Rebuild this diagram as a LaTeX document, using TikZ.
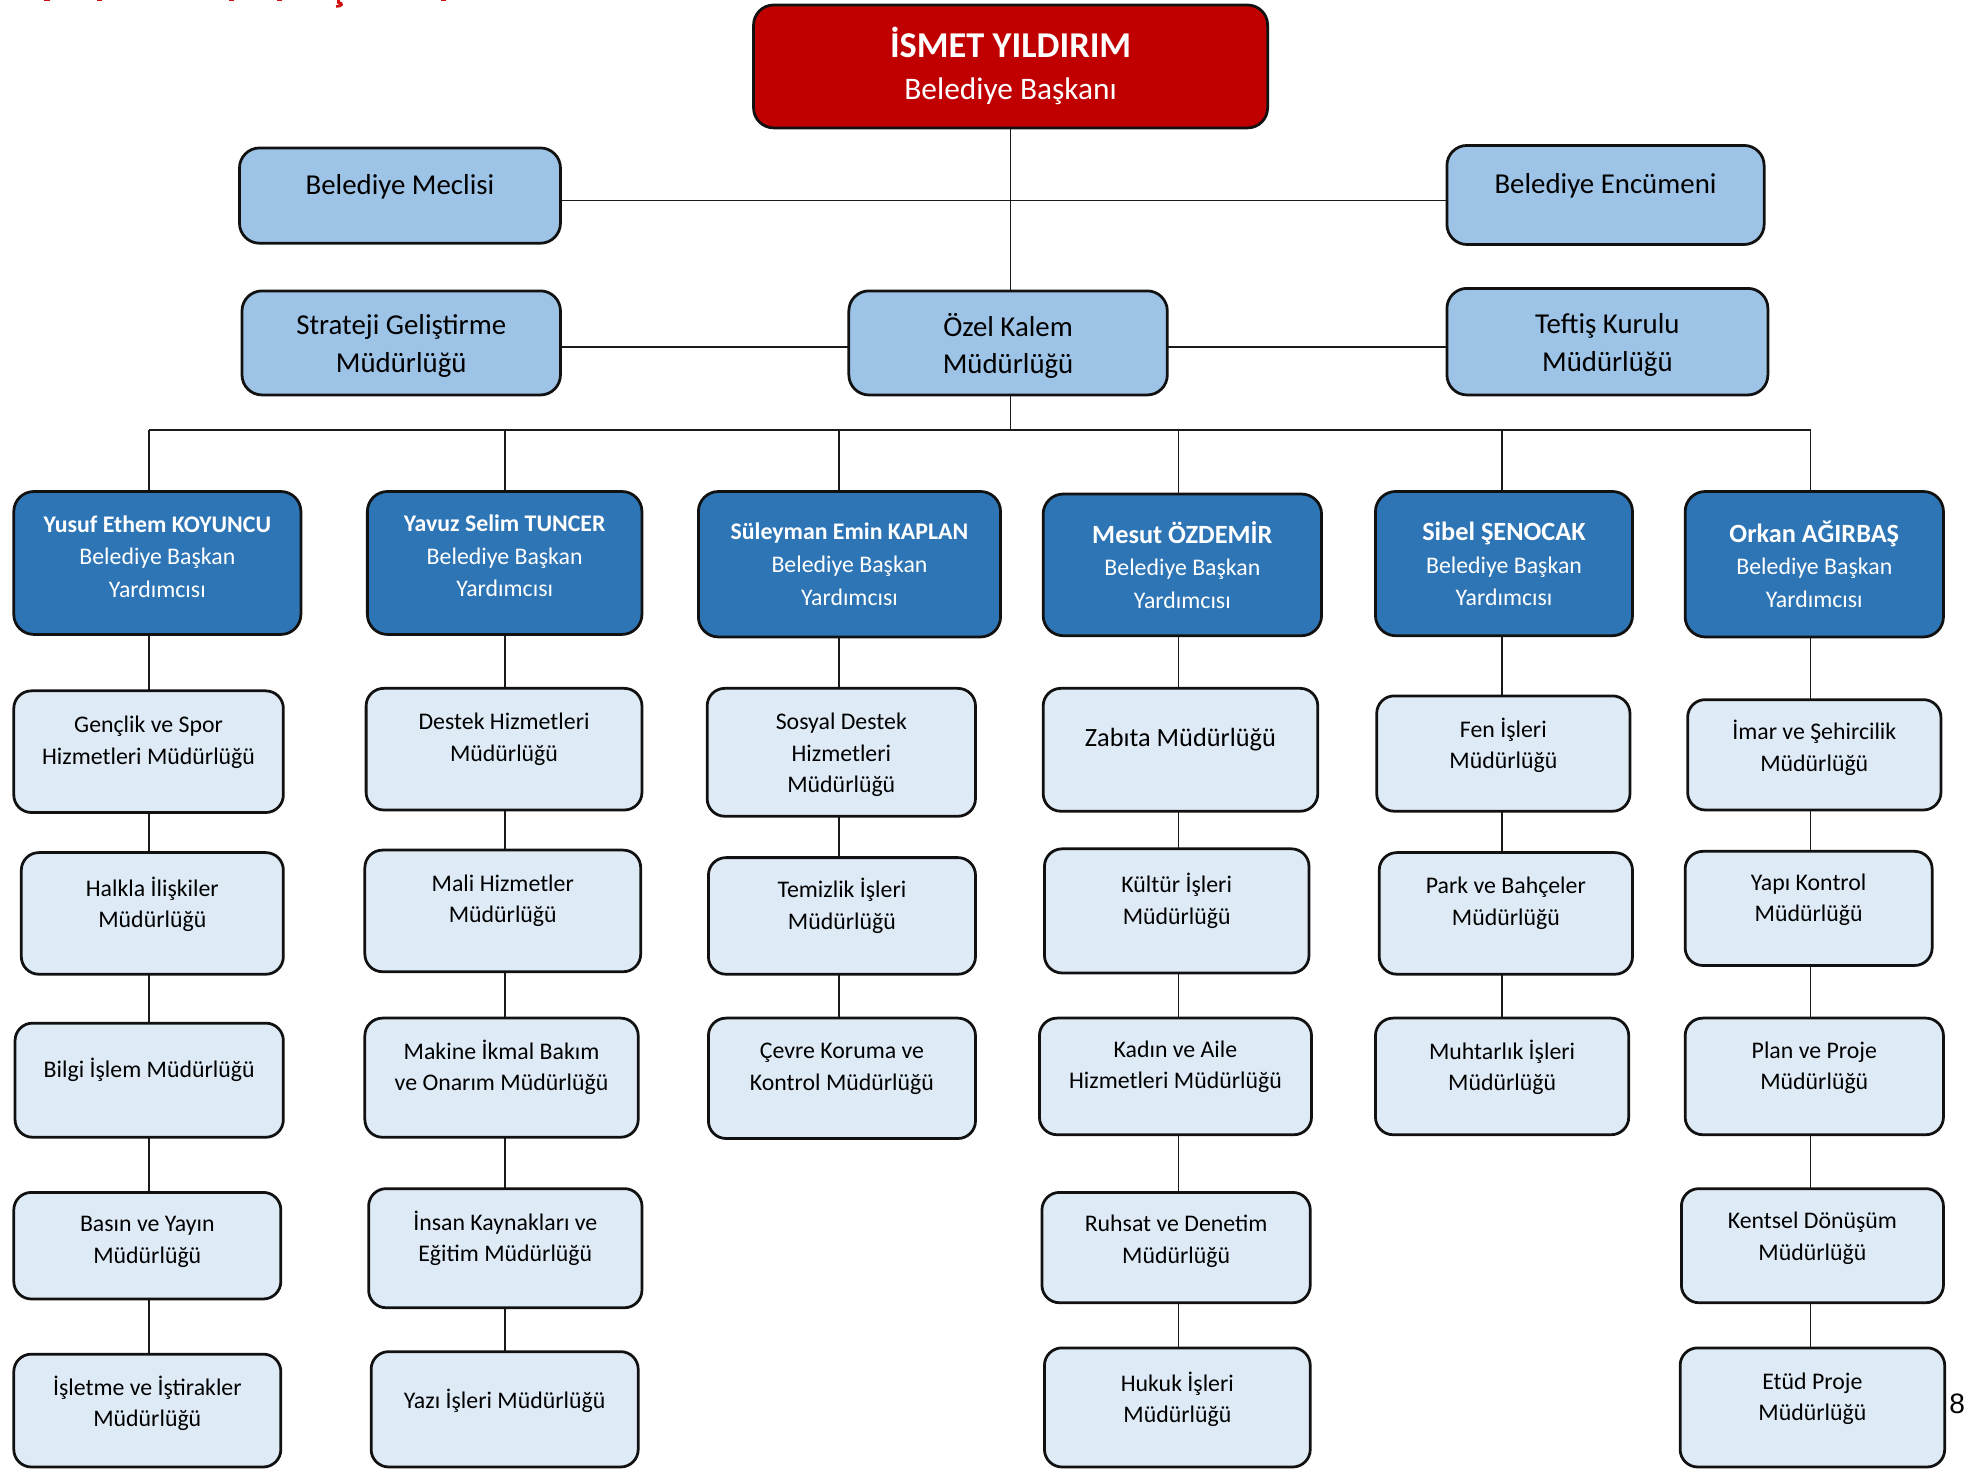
\documentclass[tikz,border=0pt]{standalone}
\usepackage{fontspec}
\setmainfont{Carlito}
\newfontfamily\pagefont{Liberation Sans}
\usetikzlibrary{backgrounds}
\definecolor{myred}{HTML}{C00000}
\definecolor{topblue}{HTML}{9DC3E6}
\definecolor{vpblue}{HTML}{2E75B6}
\definecolor{pale}{HTML}{DEEBF7}
\definecolor{edgecol}{HTML}{111111}
\definecolor{linkgray}{HTML}{1A1A1A}
\definecolor{titlered}{HTML}{D01010}
\newcommand{\obox}[8]{%
  \node[#2, minimum width={(#5-#3)*0.5pt}, minimum height={(#6-#4)*0.5pt}] (#1) at ({(#3+#5)/2},{(#4+#6)/2}) {};
  \node[#2txt] (#1t) at ({(#3+#5)/2},#7) {#8};
}
\begin{document}
\begin{tikzpicture}[x=0.5pt, y=-0.5pt,
  box/.style={draw=edgecol, line width=1.1pt, inner sep=0pt, outer sep=0pt},
  rb/.style={box, fill=myred, rounded corners=8pt},
  rbtxt/.style={text=white, align=center, inner sep=0pt, font=\fontsize{12.5}{16.5}\selectfont},
  tb/.style={box, fill=topblue, rounded corners=8pt},
  tbtxt/.style={text=black, align=center, inner sep=0pt, font=\fontsize{11.5}{15}\selectfont},
  vp/.style={box, fill=vpblue, rounded corners=8pt},
  vptxt/.style={text=white, align=center, inner sep=0pt, font=\fontsize{9.5}{13}\selectfont},
  lb/.style={box, fill=pale, rounded corners=7pt},
  lbtxt/.style={text=black, align=center, inner sep=0pt, font=\fontsize{9.5}{12.5}\selectfont},
  link/.style={draw=linkgray, line width=0.65pt}]
\useasboundingbox (0,0) rectangle (1568,1172);

% top level
\obox{red}{rb}{601}{4}{1011}{102}{52.5}{{\fontsize{14.5}{16.5}\selectfont\bfseries İSMET YILDIRIM}\\Belediye Başkanı}
\obox{meclis}{tb}{191}{118}{447}{194}{149}{Belediye Meclisi}
\obox{encumen}{tb}{1154}{116}{1407}{195}{148}{Belediye Encümeni}
\obox{strateji}{tb}{193}{232}{447}{315}{276}{Strateji Geliştirme\\Müdürlüğü}
\obox{ozel}{tb}{677}{232}{931}{315}{276}{Özel Kalem\\Müdürlüğü}
\obox{teftis}{tb}{1154}{230}{1410}{315}{275}{Teftiş Kurulu\\Müdürlüğü}

% deputies
\obox{vpa}{vp}{11}{392}{240}{506}{444}{\textbf{Yusuf Ethem KOYUNCU}\\Belediye Başkan\\Yardımcısı}
\obox{vpb}{vp}{293}{392}{512}{506}{443.5}{\textbf{Yavuz Selim TUNCER}\\Belediye Başkan\\Yardımcısı}
\obox{vpc}{vp}{557}{392}{798}{508}{450}{\textbf{Süleyman Emin KAPLAN}\\Belediye Başkan\\Yardımcısı}
\obox{vpd}{vp}{832}{394}{1054}{507}{450.5}{{\fontsize{10.5}{13}\selectfont\bfseries Mesut ÖZDEMİR}\\Belediye Başkan\\Yardımcısı}
\obox{vpe}{vp}{1097}{392}{1302}{507}{450}{{\fontsize{10.5}{13}\selectfont\bfseries Sibel ŞENOCAK}\\Belediye Başkan\\Yardımcısı}
\obox{vpf}{vp}{1344}{392}{1550}{508}{450}{{\fontsize{10.5}{13}\selectfont\bfseries Orkan AĞIRBAŞ}\\Belediye Başkan\\Yardımcısı}

% column 1
\obox{a1}{lb}{11}{551}{226}{648}{592}{Gençlik ve Spor\\Hizmetleri Müdürlüğü}
\obox{a2}{lb}{17}{680}{226}{777}{721}{Halkla İlişkiler\\Müdürlüğü}
\obox{a3}{lb}{12}{816}{226}{907}{853}{Bilgi İşlem Müdürlüğü}
\obox{a4}{lb}{11}{951}{224}{1036}{990.5}{Basın ve Yayın\\Müdürlüğü}
\obox{a5}{lb}{11}{1080}{224}{1170}{1119}{İşletme ve İştirakler\\Müdürlüğü}
% column 2
\obox{b1}{lb}{292}{549}{512}{646}{589.5}{Destek Hizmetleri\\Müdürlüğü}
\obox{b2}{lb}{291}{678}{511}{775}{718.5}{Mali Hizmetler\\Müdürlüğü}
\obox{b3}{lb}{291}{812}{509}{907}{851.5}{Makine İkmal Bakım\\ve Onarım Müdürlüğü}
\obox{b4}{lb}{294}{948}{512}{1043}{987.5}{İnsan Kaynakları ve\\Eğitim Müdürlüğü}
\obox{b5}{lb}{296}{1078}{509}{1170}{1117}{Yazı İşleri Müdürlüğü}
% column 3
\obox{c1}{lb}{564}{549}{778}{651}{602}{Sosyal Destek\\Hizmetleri\\Müdürlüğü}
\obox{c2}{lb}{565}{684}{778}{777}{722.5}{Temizlik İşleri\\Müdürlüğü}
\obox{c3}{lb}{565}{812}{778}{908}{852.5}{Çevre Koruma ve\\Kontrol Müdürlüğü}
% column 4
\obox{d1}{lb}{832}{549}{1051}{647}{590}{{\fontsize{10.5}{13}\selectfont Zabıta Müdürlüğü}}
\obox{d2}{lb}{833}{677}{1044}{776}{718.5}{Kültür İşleri\\Müdürlüğü}
\obox{d3}{lb}{829}{812}{1046}{905}{851}{Kadın ve Aile\\Hizmetleri Müdürlüğü}
\obox{d4}{lb}{831}{951}{1045}{1039}{990}{Ruhsat ve Denetim\\Müdürlüğü}
\obox{d5}{lb}{833}{1075}{1045}{1170}{1116}{Hukuk İşleri\\Müdürlüğü}
% column 5
\obox{e1}{lb}{1098}{555}{1300}{647}{594.5}{Fen İşleri\\Müdürlüğü}
\obox{e2}{lb}{1100}{680}{1302}{777}{720.5}{Park ve Bahçeler\\Müdürlüğü}
\obox{e3}{lb}{1097}{812}{1299}{905}{851.5}{Muhtarlık İşleri\\Müdürlüğü}
% column 6
\obox{f1}{lb}{1346}{558}{1548}{646}{596.5}{İmar ve Şehircilik\\Müdürlüğü}
\obox{f2}{lb}{1344}{679}{1541}{770}{717.5}{Yapı Kontrol\\Müdürlüğü}
\obox{f3}{lb}{1344}{812}{1550}{905}{851.5}{Plan ve Proje\\Müdürlüğü}
\obox{f4}{lb}{1341}{948}{1550}{1039}{987.5}{Kentsel Dönüşüm\\Müdürlüğü}
\obox{f5}{lb}{1340}{1075}{1551}{1170}{1115.5}{Etüd Proje\\Müdürlüğü}

% page number
\node[font=\pagefont\fontsize{11.2}{13}\selectfont, inner sep=0pt] (pagenum) at (1561,1120) {8};

% cut-off title fragments at the top edge
\fill[titlered] (35,0) rectangle (40,1);
\fill[titlered] (77,0) rectangle (81,1);
\fill[titlered] (183,0) rectangle (187,1);
\fill[titlered] (221,0) rectangle (225,1);
\fill[titlered] (352,0) rectangle (356,1);
\draw[titlered, line width=1.1pt] (270,0) -- (270,2) .. controls (273.5,2.5) and (273.5,5) .. (268,5);

% coordinates for connectors
\coordinate (h1) at (806,160);
\coordinate (h2) at (806,277);
\coordinate (bus1) at (119,343);
\coordinate (bus2) at (403,343);
\coordinate (bus3) at (669,343);
\coordinate (bus4) at (940,343);
\coordinate (bus5) at (1198,343);
\coordinate (bus6) at (1444,343);

\begin{scope}[on background layer]
  \fill[white] (0,0) rectangle (1568,1172);
  \draw[link] (red.south) -- (red.south |- bus1);
  \draw[link] (meclis.east |- h1) -- (encumen.west |- h1);
  \draw[link] (strateji.east |- h2) -- (ozel.west |- h2);
  \draw[link] (ozel.east |- h2) -- (teftis.west |- h2);
  \draw[link] (bus1) -- (bus6);
  \draw[link] (bus1) -- (bus1 |- a5.north);
  \draw[link] (bus2) -- (bus2 |- b5.north);
  \draw[link] (bus3) -- (bus3 |- c3.north);
  \draw[link] (bus4) -- (bus4 |- d5.north);
  \draw[link] (bus5) -- (bus5 |- e3.north);
  \draw[link] (bus6) -- (bus6 |- f5.north);
\end{scope}
\end{tikzpicture}
\end{document}
